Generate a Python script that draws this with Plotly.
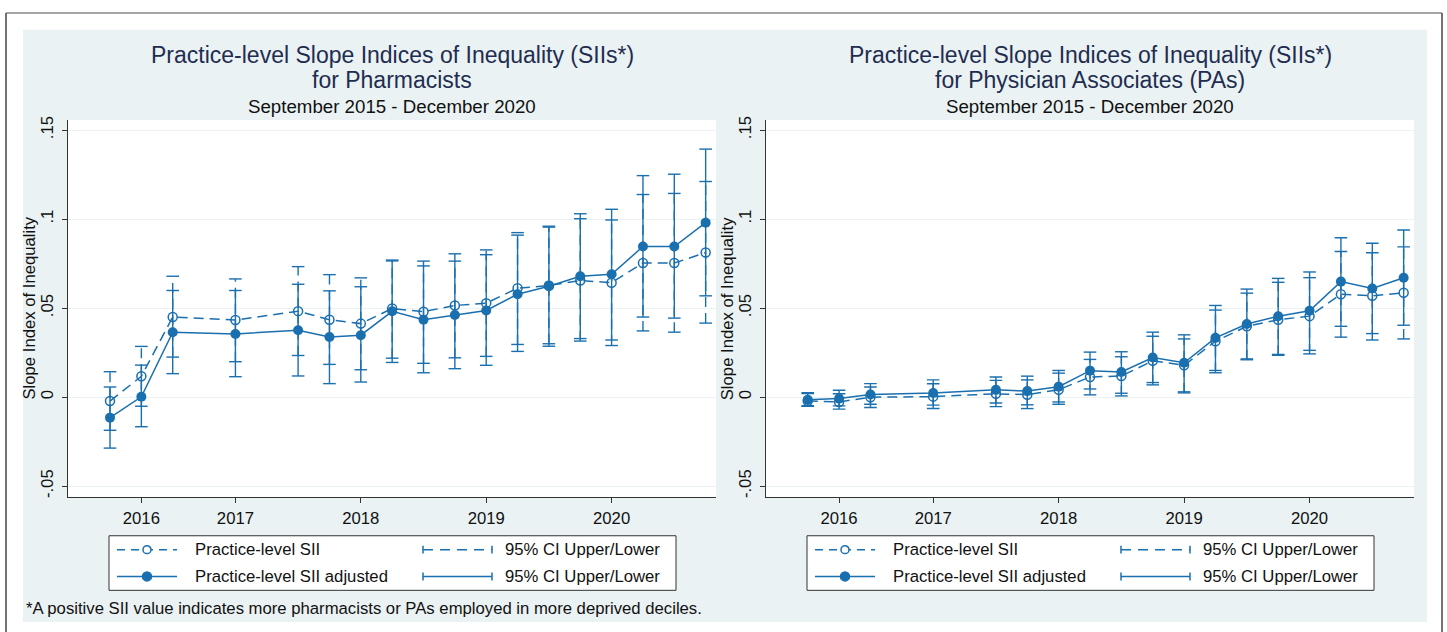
import plotly.graph_objects as go
from plotly.subplots import make_subplots

# quarterly periods (0 = Sep 2015), ticks placed where the years are labelled
period = [0, 1, 2, 4, 6, 7, 8, 9, 10, 11, 12, 13, 14, 15, 16, 17, 18, 19]
year_tick_pos = [1, 4, 8, 12, 16]
year_labels = ["2016", "2017", "2018", "2019", "2020"]
y_ticks = [-0.05, 0, 0.05, 0.1, 0.15]
y_tick_labels = ["-.05", "0", ".05", ".1", ".15"]

# Pharmacists
ph_sii = [-0.0022, 0.0117, 0.0450, 0.0433, 0.0483, 0.0435, 0.0413, 0.0498, 0.0480,
          0.0515, 0.0528, 0.0612, 0.0627, 0.0655, 0.0643, 0.0753, 0.0753, 0.0812]
ph_sii_lo = [-0.0186, -0.0051, 0.0225, 0.0199, 0.0234, 0.0184, 0.0154, 0.0219, 0.0190,
             0.0221, 0.0229, 0.0296, 0.0300, 0.0315, 0.0290, 0.0372, 0.0365, 0.0416]
ph_sii_hi = [0.0143, 0.0285, 0.0679, 0.0664, 0.0733, 0.0688, 0.0670, 0.0770, 0.0764,
             0.0805, 0.0827, 0.0924, 0.0955, 0.1002, 0.0995, 0.1138, 0.1144, 0.1211]
ph_adj = [-0.0115, 0.0002, 0.0365, 0.0355, 0.0376, 0.0338, 0.0348, 0.0482, 0.0435,
          0.0461, 0.0487, 0.0578, 0.0623, 0.0679, 0.0690, 0.0846, 0.0846, 0.0980]
ph_adj_lo = [-0.0286, -0.0166, 0.0132, 0.0115, 0.0119, 0.0076, 0.0085, 0.0195, 0.0137,
             0.0160, 0.0179, 0.0257, 0.0286, 0.0329, 0.0321, 0.0450, 0.0444, 0.0569]
ph_adj_hi = [0.0057, 0.0180, 0.0599, 0.0599, 0.0634, 0.0597, 0.0620, 0.0765, 0.0737,
             0.0764, 0.0800, 0.0910, 0.0960, 0.1030, 0.1055, 0.1244, 0.1252, 0.1393]

# Physician Associates
pa_sii = [-0.0022, -0.0027, 0.0000, 0.0003, 0.0019, 0.0014, 0.0042, 0.0113, 0.0119,
          0.0204, 0.0179, 0.0314, 0.0398, 0.0435, 0.0455, 0.0578, 0.0569, 0.0586]
pa_sii_lo = [-0.0048, -0.0067, -0.0058, -0.0064, -0.0053, -0.0064, -0.0040, 0.0013, 0.0007,
             0.0069, 0.0024, 0.0137, 0.0210, 0.0235, 0.0243, 0.0337, 0.0321, 0.0327]
pa_sii_hi = [0.0020, 0.0019, 0.0057, 0.0075, 0.0094, 0.0097, 0.0135, 0.0212, 0.0227,
             0.0342, 0.0327, 0.0489, 0.0584, 0.0645, 0.0671, 0.0818, 0.0811, 0.0844]
pa_adj = [-0.0015, -0.0008, 0.0015, 0.0023, 0.0041, 0.0034, 0.0059, 0.0149, 0.0141,
          0.0223, 0.0193, 0.0333, 0.0411, 0.0454, 0.0485, 0.0649, 0.0610, 0.0671]
pa_adj_lo = [-0.0052, -0.0049, -0.0040, -0.0045, -0.0033, -0.0043, -0.0027, 0.0046, 0.0022,
             0.0082, 0.0030, 0.0150, 0.0215, 0.0240, 0.0263, 0.0398, 0.0357, 0.0404]
pa_adj_hi = [0.0025, 0.0039, 0.0076, 0.0097, 0.0113, 0.0118, 0.0150, 0.0253, 0.0255,
             0.0365, 0.0350, 0.0515, 0.0607, 0.0667, 0.0703, 0.0895, 0.0864, 0.0939]

titles = [("Practice-level Slope Indices of Inequality (SIIs*)", "for Pharmacists"),
          ("Practice-level Slope Indices of Inequality (SIIs*)", "for Physician Associates (PAs)")]
subtitle = "September 2015 - December 2020"
y_title = "Slope Index of Inequality"
footnote = "*A positive SII value indicates more pharmacists or PAs employed in more deprived deciles."

W, H = 1447, 632
BLUE = "#1a6faf"
BG = "#eaf2f3"
FONT = "Liberation Sans, Arial, sans-serif"
DASH = "10px,6px"


def px(x):
    return x / W


def py(y):
    return 1 - y / H


def segments(xs, lo, hi):
    sx, sy = [], []
    for a, l, h in zip(xs, lo, hi):
        sx += [a, a, None]
        sy += [l, h, None]
    return sx, sy


fig = make_subplots(rows=1, cols=2)

panels = [(ph_sii, ph_sii_lo, ph_sii_hi, ph_adj, ph_adj_lo, ph_adj_hi),
          (pa_sii, pa_sii_lo, pa_sii_hi, pa_adj, pa_adj_lo, pa_adj_hi)]

for col, (s, slo, shi, a, alo, ahi) in enumerate(panels, start=1):
    # confidence intervals
    sx, sy = segments(period, slo, shi)
    fig.add_trace(go.Scatter(x=sx, y=sy, mode="lines", line=dict(color=BLUE, width=1.4, dash=DASH),
                             hoverinfo="skip"), row=1, col=col)
    sx, sy = segments(period, alo, ahi)
    fig.add_trace(go.Scatter(x=sx, y=sy, mode="lines", line=dict(color=BLUE, width=1.4),
                             hoverinfo="skip"), row=1, col=col)
    fig.add_trace(go.Scatter(x=period + period, y=slo + shi, mode="markers",
                             marker=dict(symbol="line-ew", size=9, line=dict(color=BLUE, width=1.4)),
                             hoverinfo="skip"), row=1, col=col)
    fig.add_trace(go.Scatter(x=period + period, y=alo + ahi, mode="markers",
                             marker=dict(symbol="line-ew", size=9, line=dict(color=BLUE, width=1.4)),
                             hoverinfo="skip"), row=1, col=col)
    # SII lines
    fig.add_trace(go.Scatter(x=period, y=s, mode="lines+markers", name="Practice-level SII",
                             line=dict(color=BLUE, width=1.5, dash=DASH),
                             marker=dict(symbol="circle-open", size=9, color=BLUE, line=dict(width=1.5))),
                  row=1, col=col)
    fig.add_trace(go.Scatter(x=period, y=a, mode="lines+markers", name="Practice-level SII adjusted",
                             line=dict(color=BLUE, width=1.5),
                             marker=dict(symbol="circle", size=10, color=BLUE)),
                  row=1, col=col)

fig.update_layout(width=W, height=H, margin=dict(l=0, r=0, t=0, b=0),
                  paper_bgcolor=BG, plot_bgcolor="white", showlegend=False,
                  font=dict(family=FONT, size=16.7, color="#111"))

x_domains = [[px(68), px(716)], [px(765.7), px(1414)]]
for i, dom in enumerate(x_domains, start=1):
    fig.update_xaxes(domain=dom, range=[-1.34, 19.33], tickvals=year_tick_pos, ticktext=year_labels,
                     ticks="outside", ticklen=5, tickcolor="#333", showline=True, linecolor="#333",
                     linewidth=1, showgrid=False, zeroline=False, ticklabelstandoff=1, row=1, col=i)
    fig.update_yaxes(domain=[py(497), py(117)], range=[-0.0561, 0.1556], tickvals=y_ticks,
                     ticktext=y_tick_labels, tickangle=-90, ticks="outside", ticklen=5, tickcolor="#333",
                     showline=True, linecolor="#333", linewidth=1, showgrid=True, gridcolor=BG,
                     gridwidth=1, zeroline=False, ticklabelstandoff=2, row=1, col=i)

shapes = []
# white surround and outer frame
for x0, y0, x1, y1 in [(-5, -5, W + 5, 26), (-5, 623, W + 5, H + 5), (-5, -5, 23, H + 5),
                       (1427, -5, W + 5, H + 5)]:
    shapes.append(dict(type="rect", xref="paper", yref="paper", x0=px(x0), x1=px(x1), y0=py(y1), y1=py(y0),
                       fillcolor="white", line=dict(width=0), layer="below"))
shapes.append(dict(type="line", xref="paper", yref="paper", x0=px(6), x1=px(1442), y0=py(9), y1=py(9),
                   line=dict(color="#888", width=1.5)))
for xx in (6, 1442):
    shapes.append(dict(type="line", xref="paper", yref="paper", x0=px(xx), x1=px(xx), y0=py(9), y1=py(H + 5),
                       line=dict(color="#444", width=1.5)))

annotations = []
centers = [392, 1090]
axis_left = [68, 765.7]
for (t1, t2), cx, ax in zip(titles, centers, axis_left):
    annotations.append(dict(text=t1, x=px(cx), y=py(51), xref="paper", yref="paper", showarrow=False,
                            xanchor="center", yanchor="middle", font=dict(size=23, color="#1f2d50")))
    annotations.append(dict(text=t2, x=px(cx), y=py(77), xref="paper", yref="paper", showarrow=False,
                            xanchor="center", yanchor="middle", font=dict(size=23, color="#1f2d50")))
    annotations.append(dict(text=subtitle, x=px(cx), y=py(103), xref="paper", yref="paper", showarrow=False,
                            xanchor="center", yanchor="middle", font=dict(size=18.7, color="#111")))
    annotations.append(dict(text=y_title, x=px(ax - 38), y=py(307), xref="paper", yref="paper",
                            showarrow=False, textangle=-90, xanchor="center", yanchor="middle",
                            font=dict(size=16.7, color="#111")))

annotations.append(dict(text=footnote, x=px(24), y=py(609), xref="paper", yref="paper", showarrow=False,
                        xanchor="left", yanchor="middle", font=dict(size=16.7, color="#111")))


def hline(x0, x1, y, dash=None):
    ln = dict(color=BLUE, width=1.5)
    if dash:
        ln["dash"] = dash
    return dict(type="line", xref="paper", yref="paper", x0=px(x0), x1=px(x1), y0=py(y), y1=py(y),
                line=ln, layer="above")


def vline(x, y0, y1):
    return dict(type="line", xref="paper", yref="paper", x0=px(x), x1=px(x), y0=py(y0), y1=py(y1),
                line=dict(color=BLUE, width=1.5), layer="above")


def dot(cx, cy, r, filled):
    return dict(type="circle", xref="paper", yref="paper", x0=px(cx - r), x1=px(cx + r),
                y0=py(cy + r), y1=py(cy - r), fillcolor=BLUE if filled else "white",
                line=dict(color=BLUE, width=1.5), layer="above")


key_left = [109, 807]
r1, r2 = 550, 577
for x0 in key_left:
    shapes.append(dict(type="rect", xref="paper", yref="paper", x0=px(x0), x1=px(x0 + 567),
                       y0=py(591), y1=py(536), fillcolor="white", line=dict(color="#333", width=1),
                       layer="above"))
    shapes.append(hline(x0 + 8, x0 + 68, r1, "8px,6px"))
    shapes.append(dot(x0 + 38, r1, 4, False))
    shapes.append(hline(x0 + 8, x0 + 68, r2))
    shapes.append(dot(x0 + 38, r2, 4.5, True))
    for ry, dsh in ((r1, "10px,7px"), (r2, None)):
        shapes.append(hline(x0 + 314, x0 + 383, ry, dsh))
        shapes.append(vline(x0 + 314, ry - 4, ry + 4))
        shapes.append(vline(x0 + 383, ry - 4, ry + 4))
    for ry, txt, cx in ((r1, "Practice-level SII", 84), (r2, "Practice-level SII adjusted", 84),
                        (r1, "95% CI Upper/Lower", 394), (r2, "95% CI Upper/Lower", 394)):
        annotations.append(dict(text=txt, x=px(x0 + cx), y=py(ry), xref="paper", yref="paper",
                                showarrow=False, xanchor="left", yanchor="middle",
                                font=dict(size=16.7, color="#111")))

fig.update_layout(shapes=shapes, annotations=annotations)

# page has a default 8px body margin; remove it so the figure sits at the window origin
fig.write_html("out.html", config={"displayModeBar": False},
               post_script="document.body.style.margin='0';")
